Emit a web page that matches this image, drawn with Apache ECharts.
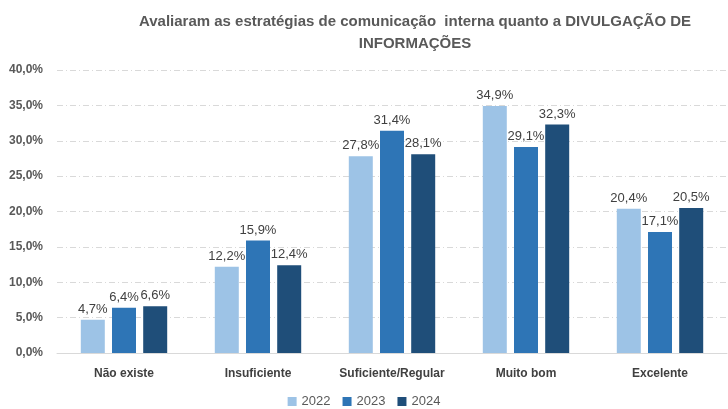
<!DOCTYPE html>
<html>
<head>
<meta charset="utf-8">
<script src="https://cdn.jsdelivr.net/npm/echarts@6/dist/echarts.min.js"></script>
<style>
  html, body { margin: 0; padding: 0; background: #fff; }
  #chart { width: 728px; height: 409px; }
</style>
</head>
<body>
<div id="chart"></div>
<script>
// categorias e valores (%)
const categories = ['Não existe', 'Insuficiente', 'Suficiente/Regular', 'Muito bom', 'Excelente']
const years = ['2022', '2023', '2024']
const values2022 = [4.7, 12.2, 27.8, 34.9, 20.4]
const values2023 = [6.4, 15.9, 31.4, 29.1, 17.1]
const values2024 = [6.6, 12.4, 28.1, 32.3, 20.5]
const yTicks = [0, 5, 10, 15, 20, 25, 30, 35, 40]

const colors = ['#9dc3e6', '#2e75b6', '#1f4e79']
const fontFamily = 'Liberation Sans, Arial, sans-serif'

const fmt = (v) => v.toFixed(1).replace('.', ',') + '%'

const chart = echarts.init(document.getElementById('chart'))

const makeSeries = (name, data, i) => ({
  name,
  type: 'bar',
  data,
  barWidth: 24,
  barGap: '30%',
  itemStyle: { color: colors[i] },
  label: {
    show: true,
    position: 'top',
    distance: 4,
    color: '#404040',
    fontSize: 13,
    fontFamily,
    formatter: (p) => fmt(p.value)
  }
})

chart.setOption({
  animation: false,
  title: {
    text: 'Avaliaram as estratégias de comunicação  interna quanto a DIVULGAÇÃO DE\nINFORMAÇÕES',
    left: 410,
    top: 6,
    textAlign: 'center',
    textStyle: {
      color: '#595959',
      fontSize: 15,
      fontWeight: 'bold',
      fontFamily,
      lineHeight: 22,
      align: 'center'
    }
  },
  legend: {
    data: years,
    bottom: -4,
    left: 'center',
    itemWidth: 9,
    itemHeight: 9,
    itemGap: 12,
    icon: 'rect',
    textStyle: { color: '#595959', fontSize: 13, fontFamily }
  },
  grid: { left: 57, right: 1, top: 70, bottom: 56 },
  xAxis: {
    type: 'category',
    data: categories,
    axisTick: { show: false },
    axisLine: { lineStyle: { color: '#d9d9d9', width: 1 } },
    axisLabel: {
      interval: 0,
      color: '#404040',
      fontSize: 12,
      fontWeight: 'bold',
      fontFamily,
      margin: 15
    }
  },
  yAxis: {
    type: 'value',
    min: yTicks[0],
    max: yTicks[yTicks.length - 1],
    interval: 5,
    axisLine: { show: false },
    axisTick: { show: false },
    axisLabel: {
      color: '#595959',
      fontSize: 12,
      fontWeight: 'bold',
      fontFamily,
      margin: 14,
      formatter: (v) => fmt(v)
    },
    splitLine: {
      lineStyle: { color: '#d9d9d9', type: [6, 3, 1, 3], width: 1 }
    }
  },
  series: [
    makeSeries(years[0], values2022, 0),
    makeSeries(years[1], values2023, 1),
    makeSeries(years[2], values2024, 2)
  ]
})
</script>
</body>
</html>
